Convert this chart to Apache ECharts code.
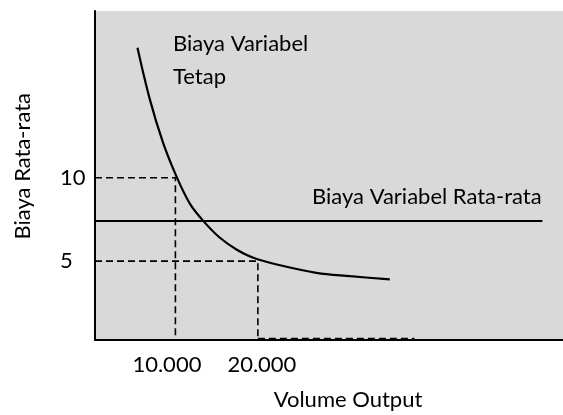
<!DOCTYPE html>
<html>
<head>
<meta charset="utf-8">
<script src="https://cdn.jsdelivr.net/npm/echarts@6/dist/echarts.min.js"></script>
<style>html,body{margin:0;padding:0;background:#fff}#c{width:563px;height:415px}</style>
</head>
<body>
<div id="c"></div>
<script>
// ---- data ----
const xTicks = [10000, 20000];
const xTickLabels = ['10.000', '20.000'];
const yTicks = [5, 10];
const yTickLabels = ['5', '10'];
const curveX = [5400, 6900, 8500, 10150, 11750, 13400, 15400, 17400, 19450, 22700, 27100, 31200, 36000];
const curveY = [17.8, 14.7, 12.1, 10.05, 8.45, 7.4, 6.4, 5.7, 5.2, 4.75, 4.3, 4.1, 3.9];
const avgCost = 7.4;
const avgX = [250, 54500];
const guideX = [10000, 20000];
const guideY = [10, 5];
const bottomDashX = [20000, 39000];
const xMin = 250, xMax = 57000, yMin = 0.3, yMax = 20;
const xName = 'Volume Output';
const yName = 'Biaya Rata-rata';
const curveLabel = ['Biaya Variabel', 'Tetap'];
const avgLabel = 'Biaya Variabel Rata-rata';

const FONT = 'Lato';
const FS = 22;
const chart = echarts.init(document.getElementById('c'), null, {renderer: 'canvas'});
const dashed = {color: '#000', width: 1.6, type: [7, 4]};

const series = [
  {
    type: 'line', name: 'curve', smooth: 0.35, showSymbol: false, silent: true,
    data: curveX.map((x, i) => [x, curveY[i]]),
    lineStyle: {color: '#000', width: 2.2}, z: 5
  },
  {
    type: 'line', name: 'avg', showSymbol: false, silent: true,
    data: avgX.map(x => [x, avgCost]),
    lineStyle: {color: '#000', width: 2}, z: 5
  }
];
guideX.forEach((gx, i) => {
  series.push({
    type: 'line', showSymbol: false, silent: true,
    data: [[xMin, guideY[i]], [gx, guideY[i]], [gx, yMin]],
    lineStyle: dashed, z: 4
  });
});
series.push({
  type: 'line', showSymbol: false, silent: true,
  data: bottomDashX.map(x => [x, yMin + 0.05]),
  lineStyle: dashed, z: 4
});

chart.setOption({
  animation: false,
  backgroundColor: '#fff',
  textStyle: {fontFamily: FONT},
  grid: {left: 95, right: 0, top: 11, bottom: 75.5, show: true, backgroundColor: '#d9d9d9', borderWidth: 0, containLabel: false, outerBoundsMode: 'none'},
  xAxis: {
    type: 'value', min: xMin, max: xMax,
    splitLine: {show: false}, axisTick: {show: false},
    axisLine: {show: true, onZero: false, lineStyle: {color: '#000', width: 2}},
    axisLabel: {
      customValues: xTicks, margin: 14, color: '#000', fontFamily: FONT, fontSize: FS,
      formatter: v => {
        const i = xTicks.indexOf(v);
        return i === 0 ? '{a|' + xTickLabels[0] + '}' : '{b|' + xTickLabels[1] + '}';
      },
      rich: {
        a: {fontFamily: FONT, fontSize: FS, color: '#000', padding: [0, 17, 0, 0]},
        b: {fontFamily: FONT, fontSize: FS, color: '#000', padding: [0, 0, 0, 8]}
      }
    },
    name: xName, nameLocation: 'middle', nameGap: 49,
    nameTextStyle: {color: '#000', fontFamily: FONT, fontSize: FS, padding: [0, 0, 0, 38]}
  },
  yAxis: {
    type: 'value', min: yMin, max: yMax,
    splitLine: {show: false}, axisTick: {show: false},
    axisLine: {show: true, onZero: false, lineStyle: {color: '#000', width: 2}},
    axisLabel: {
      customValues: yTicks, margin: 35, align: 'left', color: '#000', fontFamily: FONT, fontSize: FS,
      formatter: v => yTickLabels[yTicks.indexOf(v)]
    },
    name: yName, nameLocation: 'middle', nameGap: 61,
    nameTextStyle: {color: '#000', fontFamily: FONT, fontSize: FS, padding: [0, 0, 0, 18]}
  },
  graphic: [
    {type: 'text', left: 173, top: 33, style: {text: curveLabel[0], font: FS + 'px ' + FONT, fill: '#000'}, z: 10},
    {type: 'text', left: 173, top: 66, style: {text: curveLabel[1], font: FS + 'px ' + FONT, fill: '#000'}, z: 10},
    {type: 'text', left: 312, top: 186, style: {text: avgLabel, font: FS + 'px ' + FONT, fill: '#000'}, z: 10}
  ],
  series: series
});
</script>
</body>
</html>
